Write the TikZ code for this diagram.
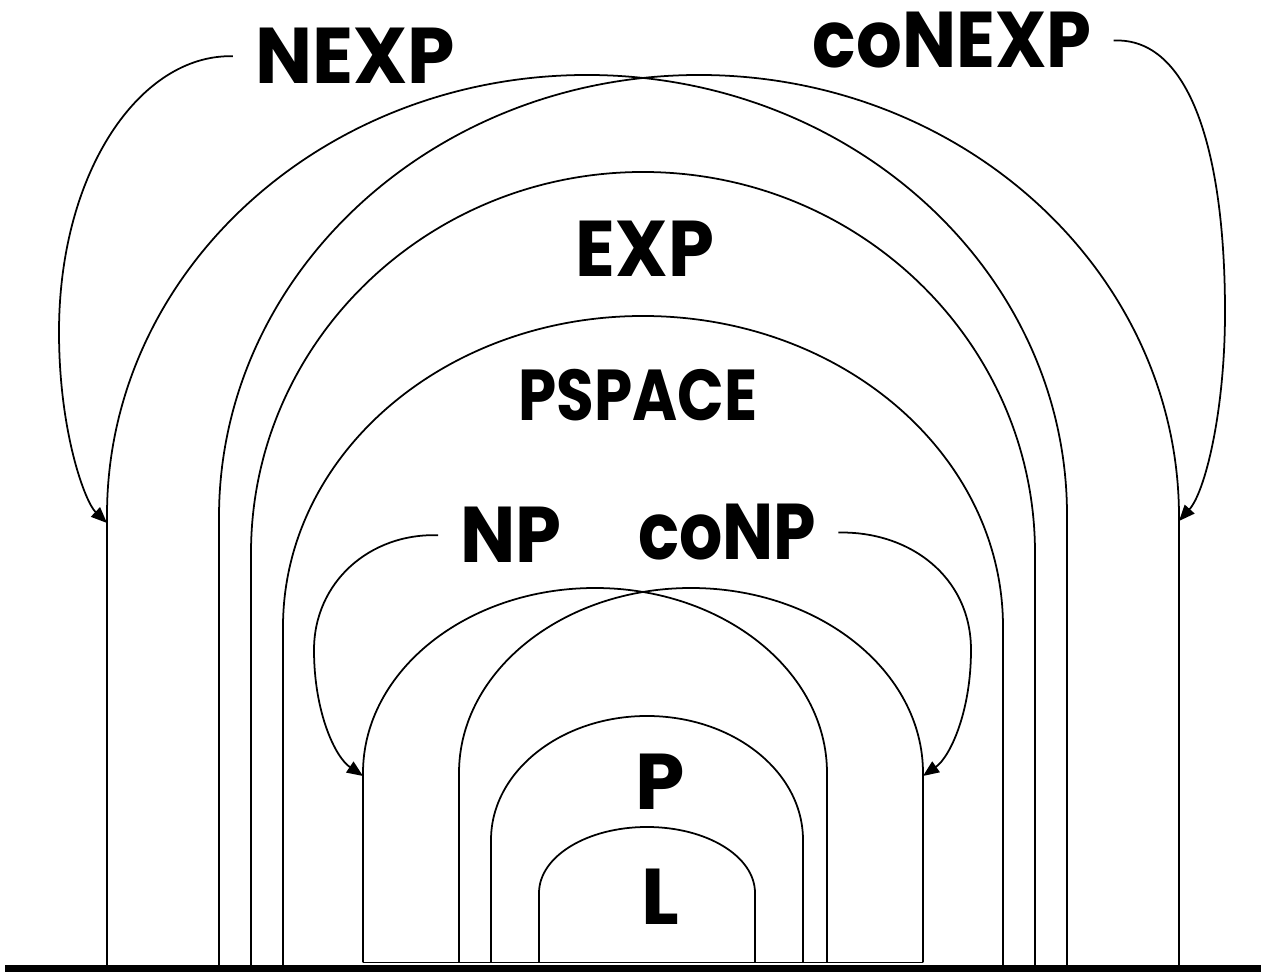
\documentclass[tikz,border=0pt]{standalone}
\usepackage{fontspec}
\setmainfont{Poppins}
\usetikzlibrary{arrows.meta}
\newcommand\narrow[2]{\scalebox{#1}[1]{#2}}
\begin{document}
\begin{tikzpicture}[x=0.02cm,y=0.02cm,
  thin line/.style={line width=1pt, line join=round},
  classlabel/.style={font=\bfseries\fontsize{45}{45}\selectfont, inner sep=0pt, anchor=base},
  smalllabel/.style={font=\bfseries\fontsize{41}{41}\selectfont, inner sep=0pt, anchor=base},
  tagged/.style={inner xsep=0.44cm, inner ysep=0pt},
  pointer/.style={thin line, -{Triangle[length=0.32cm,width=0.26cm]}}]
\useasboundingbox (0,0) rectangle (1261,972);

% thick ground line
\fill (5,0) rectangle (1261,7);

% outer arches: NEXP and coNEXP
\draw[thin line] (107,6) -- (107,457) .. controls (107,700) and (322,897) .. (587,897)
  .. controls (852,897) and (1067,700) .. (1067,457) -- (1067,6);
\draw[thin line] (219,6) -- (219,455) .. controls (219,699) and (434,897) .. (699,897)
  .. controls (964,897) and (1179,699) .. (1179,455) -- (1179,6);

% EXP
\draw[thin line] (251,6) -- (251,419) .. controls (251,629) and (426.5,800) .. (643,800)
  .. controls (859.5,800) and (1035,629) .. (1035,419) -- (1035,6);
% PSPACE
\draw[thin line] (283,6) -- (283,345) .. controls (283,517) and (444,656) .. (643,656)
  .. controls (842,656) and (1003,517) .. (1003,345) -- (1003,6);

% NP and coNP
\draw[thin line] (363,9.5) -- (363,199) .. controls (363,301) and (467,384) .. (595,384)
  .. controls (723,384) and (827,301) .. (827,199) -- (827,9.5);
\draw[thin line] (459,9.5) -- (459,199) .. controls (459,301) and (563,384) .. (691,384)
  .. controls (819,384) and (923,301) .. (923,199) -- (923,9.5);
\draw[thin line] (363,9.5) -- (923,9.5);

% P
\draw[thin line] (491,9.5) -- (491,132) .. controls (491,200.5) and (561,256) .. (647,256)
  .. controls (733,256) and (803,200.5) .. (803,132) -- (803,9.5);
% L
\draw[thin line] (539,9.5) -- (539,79) .. controls (539,115.5) and (587,145) .. (647,145)
  .. controls (707,145) and (755,115.5) .. (755,79) -- (755,9.5);

% labels
\node[classlabel, tagged] (nexp) at (355,888) {\narrow{0.96}{NEXP}};
\node[classlabel, tagged] (conexp) at (952,904) {\narrow{0.91}{coNEXP}};
\node[classlabel] (exp) at (645,695) {\narrow{0.93}{EXP}};
\node[smalllabel] (pspace) at (638,551) {\narrow{0.85}{PSPACE}};
\node[classlabel, tagged] (np) at (511,409) {\narrow{0.93}{NP}};
\node[classlabel, tagged] (conp) at (727,412) {\narrow{0.86}{coNP}};
\node[classlabel] (p) at (660,162) {P};
\node[classlabel] (l) at (660,47) {L};

% arrow targets on the arch sides
\coordinate (nexptip) at (107,449);
\coordinate (conexptip) at (1179,451);
\coordinate (nptip) at (363,196);
\coordinate (conptip) at (923,196);

% pointers from the labels to their classes
\draw[pointer] (nexp.west) .. controls (140,918) and (59,800) .. (59,640)
  .. controls (59,540) and (85,470) .. (nexptip);
\draw[pointer] (conexp.east) .. controls (1190,935) and (1225,820) .. (1225,660)
  .. controls (1225,560) and (1205,480) .. (conexptip);
\draw[pointer] (np.west) .. controls (370,439) and (314,390) .. (314,322)
  .. controls (314,260) and (335,215) .. (nptip);
\draw[pointer] (conp.east) .. controls (910,441) and (971,395) .. (971,322)
  .. controls (971,260) and (950,215) .. (conptip);
\end{tikzpicture}
\end{document}
